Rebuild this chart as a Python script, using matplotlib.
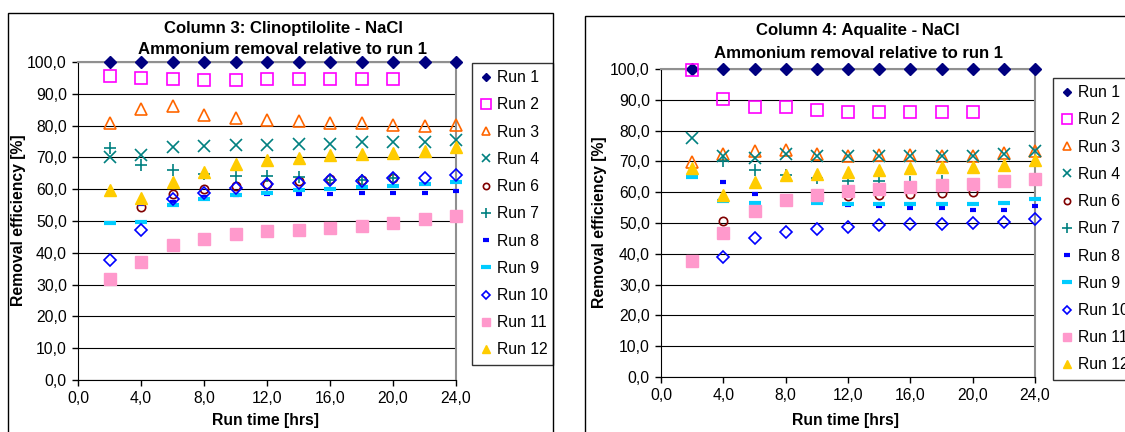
import matplotlib
matplotlib.use("Agg")
import matplotlib.pyplot as plt
from matplotlib.patches import Rectangle
from matplotlib.ticker import FuncFormatter

# ============================================================
# DATOS
# ============================================================

labels = ["Run 1", "Run 2", "Run 3", "Run 4", "Run 6", "Run 7",
          "Run 8", "Run 9", "Run 10", "Run 11", "Run 12"]

t_full = [2, 4, 6, 8, 10, 12, 14, 16, 18, 20, 22, 24]
t_run2 = [2, 4, 6, 8, 10, 12, 14, 16, 18, 20]
t_4_20 = [4, 6, 8, 10, 12, 14, 16, 18, 20]
t_2_20 = [2, 4, 6, 8, 10, 12, 14, 16, 18, 20]
t_4_24 = [4, 6, 8, 10, 12, 14, 16, 18, 20, 22, 24]

# Column 3: Clinoptilolite - NaCl
c3_run1 = [100.0] * 12
c3_run2 = [95.6, 95.1, 94.7, 94.3, 94.3, 94.7, 94.7, 94.7, 94.7, 94.7]
c3_run3 = [80.8, 85.3, 86.1, 83.3, 82.4, 81.7, 81.4, 80.8, 80.8, 80.3, 79.8, 80.3]
c3_run4 = [70.0, 70.8, 73.3, 73.6, 73.9, 73.9, 74.3, 74.3, 74.8, 74.8, 74.8, 75.4]
c3_run6 = [54.5, 58.5, 60.1, 61.1, 61.7, 62.6, 63.2, 62.9, 63.5]
c3_run7 = [72.8, 67.6, 66.1, 64.7, 64.0, 64.2, 63.8, 62.9, 62.9, 63.5]
c3_run8 = [55.4, 56.0, 57.5, 58.3, 58.5, 58.5, 58.5, 58.9, 58.9, 58.9, 59.3]
c3_run9 = [49.3, 49.8, 54.9, 56.9, 58.2, 58.9, 59.8, 60.2, 60.6, 61.1, 61.5, 62.2]
c3_run10 = [37.8, 47.2, 56.8, 58.7, 60.3, 61.6, 61.9, 62.9, 62.7, 63.5, 63.6, 64.4]
c3_run11 = [31.9, 37.1, 42.3, 44.2, 45.9, 46.7, 47.2, 47.9, 48.3, 49.4, 50.6, 51.5]
c3_run12 = [59.8, 57.2, 62.2, 65.5, 67.9, 69.1, 69.8, 70.6, 71.0, 71.5, 72.0, 73.3]

# Column 4: Aqualite - NaCl
c4_run1 = [100.0] * 12
c4_run2 = [99.8, 90.3, 87.8, 87.8, 86.6, 86.1, 86.1, 86.1, 86.1, 86.1]
c4_run3 = [69.9, 72.4, 73.3, 73.8, 72.5, 71.9, 72.1, 72.1, 71.9, 71.9, 72.7, 73.5]
c4_run4 = [77.7, 71.9, 71.1, 72.5, 71.9, 71.6, 71.6, 71.6, 71.6, 71.6, 72.4, 73.3]
c4_run6 = [50.7, 54.9, 57.3, 58.1, 58.7, 59.0, 59.4, 59.7, 60.2]
c4_run7 = [70.0, 67.1, 65.5, 64.6, 63.7, 63.5, 63.2, 63.5, 62.8]
c4_run8 = [37.4, 63.2, 59.5, 58.1, 57.0, 56.0, 55.4, 54.9, 54.9, 54.3, 54.3, 55.4]
c4_run9 = [64.8, 57.0, 56.5, 57.0, 56.5, 56.3, 56.2, 56.2, 56.2, 56.2, 56.5, 57.9]
c4_run10 = [39.1, 45.0, 47.1, 48.0, 48.8, 49.3, 49.6, 49.6, 50.0, 50.3, 51.3]
c4_run11 = [37.7, 46.9, 54.0, 57.6, 59.0, 60.3, 61.0, 61.6, 62.4, 62.8, 63.5, 64.4]
c4_run12 = [67.9, 59.0, 63.2, 65.7, 66.0, 66.5, 67.3, 67.9, 68.1, 68.1, 68.9, 70.3]

c3_times = [t_full, t_run2, t_full, t_full, t_4_20, t_2_20,
            t_4_24, t_full, t_full, t_full, t_full]
c3_values = [c3_run1, c3_run2, c3_run3, c3_run4, c3_run6, c3_run7,
             c3_run8, c3_run9, c3_run10, c3_run11, c3_run12]

c4_times = [t_full, t_run2, t_full, t_full, t_4_20, t_4_20,
            t_full, t_full, t_4_24, t_full, t_full]
c4_values = [c4_run1, c4_run2, c4_run3, c4_run4, c4_run6, c4_run7,
             c4_run8, c4_run9, c4_run10, c4_run11, c4_run12]

# ============================================================
# ESTILOS
# ============================================================

styles = [
    dict(marker="D", ms=6, mfc="#000080", mec="#000080", mew=1),
    dict(marker="s", ms=9, mfc="none", mec="#FF00FF", mew=1.2),
    dict(marker="^", ms=8, mfc="none", mec="#FF6600", mew=1.2),
    dict(marker="x", ms=8, mfc="none", mec="#008080", mew=1.2),
    dict(marker="o", ms=6, mfc="none", mec="#800000", mew=1.2),
    dict(marker="+", ms=9, mfc="none", mec="#008080", mew=1.2),
    dict(marker="_", ms=5, mfc="none", mec="#0000FF", mew=3),
    dict(marker="_", ms=9, mfc="none", mec="#00CCFF", mew=3),
    dict(marker="D", ms=6, mfc="none", mec="#0000FF", mew=1.2),
    dict(marker="s", ms=8, mfc="#FF99CC", mec="#FF99CC", mew=1),
    dict(marker="^", ms=8, mfc="#FFCC00", mec="#FFCC00", mew=1),
]

plt.rcParams["font.family"] = ["Liberation Sans", "DejaVu Sans"]
FS = 11.3
FS_TITLE = 12.1

W, H = 1125, 432


def px_box(x0, y0, x1, y1):
    return [x0 / W, 1 - y1 / H, (x1 - x0) / W, (y1 - y0) / H]


fig = plt.figure(figsize=(W / 100, H / 100), dpi=100)

# marcos exteriores de cada gráfico
fig.patches.append(Rectangle((8 / W, 1 - 445 / H), 545 / W, 432 / H,
                             transform=fig.transFigure, fill=False,
                             edgecolor="black", lw=1))
fig.patches.append(Rectangle((585 / W, 1 - 445 / H), 560 / W, 429 / H,
                             transform=fig.transFigure, fill=False,
                             edgecolor="black", lw=1))

comma = FuncFormatter(lambda v, p: f"{v:.1f}".replace(".", ","))


def draw_panel(box, times, values, titles, title_xy, ylab_xy, xlab_xy, leg_box):
    ax = fig.add_axes(px_box(*box))
    for t, v, lab, st in zip(times, values, labels, styles):
        ax.plot(t, v, linestyle="none", label=lab, **st, clip_on=False, zorder=3)

    ax.set_xlim(0, 24)
    ax.set_ylim(0, 100)
    ax.set_xticks(range(0, 25, 4))
    ax.set_yticks(range(0, 101, 10))
    ax.xaxis.set_major_formatter(comma)
    ax.yaxis.set_major_formatter(comma)
    ax.tick_params(direction="out", length=4, width=1, labelsize=FS, pad=4)
    ax.yaxis.grid(True, color="black", lw=0.8)
    ax.set_axisbelow(True)
    for s in ["top", "right"]:
        ax.spines[s].set_color("#909090")
        ax.spines[s].set_linewidth(1.5)
    for s in ["left", "bottom"]:
        ax.spines[s].set_color("black")

    fig.text(title_xy[0] / W, 1 - title_xy[1] / H, titles[0], ha="center",
             va="center", fontsize=FS_TITLE, fontweight="bold")
    fig.text(title_xy[0] / W, 1 - (title_xy[1] + 22) / H, titles[1], ha="center",
             va="center", fontsize=FS_TITLE, fontweight="bold")
    fig.text(ylab_xy[0] / W, 1 - ylab_xy[1] / H, "Removal efficiency [%]",
             rotation=90, ha="center", va="center", fontsize=FS, fontweight="bold")
    fig.text(xlab_xy[0] / W, 1 - xlab_xy[1] / H, "Run time [hrs]",
             ha="center", va="center", fontsize=FS, fontweight="bold")

    lx0, ly0, lx1, ly1 = leg_box
    leg = ax.legend(loc="upper left",
                    bbox_to_anchor=(lx0 / W, 1 - ly0 / H, (lx1 - lx0) / W, 0),
                    bbox_transform=fig.transFigure, mode="expand",
                    borderaxespad=0, fontsize=FS, labelspacing=0.78,
                    handlelength=0.9, handletextpad=0.25, borderpad=0.45,
                    fancybox=False, frameon=True, numpoints=1, markerscale=0.75)
    leg.get_frame().set_edgecolor("black")
    leg.get_frame().set_linewidth(1)
    return ax


draw_panel((78, 62, 456, 380), c3_times, c3_values,
           ["Column 3: Clinoptilolite - NaCl", "Ammonium removal relative to run 1"],
           (283, 28), (19, 220), (266, 420), (472, 63, 553, 380))

draw_panel((661, 69, 1035, 377), c4_times, c4_values,
           ["Column 4: Aqualite - NaCl", "Ammonium removal relative to run 1"],
           (858, 31), (599, 222), (846, 420), (1053, 78, 1160, 382))

plt.savefig("out.png", dpi=100)
